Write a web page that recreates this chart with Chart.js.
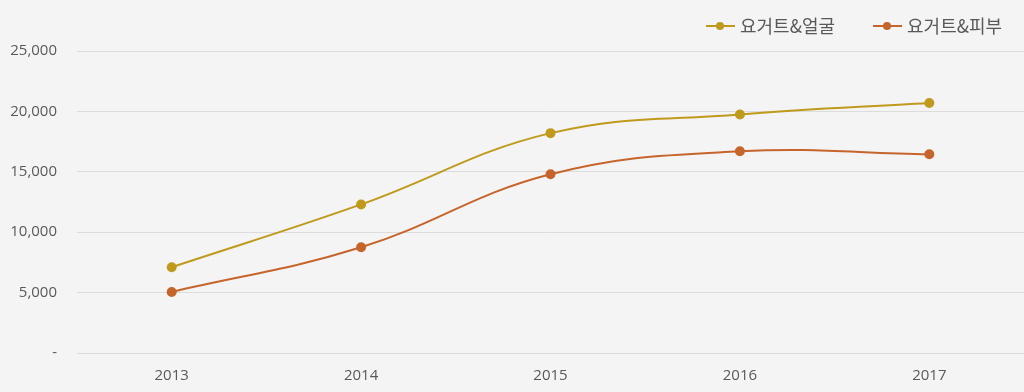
<!DOCTYPE html>
<html>
<head>
<meta charset="utf-8">
<script src="https://cdn.jsdelivr.net/npm/chart.js@4"></script>
<style>
  html, body { margin: 0; padding: 0; background: #f4f4f4; overflow: hidden; }
  #wrap { position: relative; width: 1024px; height: 392px; }
  #chart { display: block; }
  #legend { position: absolute; top: 12px; left: 706px; white-space: nowrap;
            font-family: "Noto Sans CJK KR", "Noto Sans", sans-serif; font-size: 18px; color: #595959; }
  #legend .item { display: inline-block; margin-right: 38px; }
  #legend .mark { display: inline-block; position: relative; width: 29px; height: 10px; margin-right: 5px; vertical-align: 2px; }
  #legend .mark i { position: absolute; left: 0; right: 0; top: 4px; height: 2px; }
  #legend .mark b { position: absolute; left: 10px; top: 1px; width: 8px; height: 8px; border-radius: 50%; }
</style>
</head>
<body>
<div id="wrap">
  <div id="legend"></div>
  <canvas id="chart" width="1024" height="392"></canvas>
</div>
<script>
var years = ['2013', '2014', '2015', '2016', '2017'];
var faceLabel = '요거트&얼굴';
var skinLabel = '요거트&피부';
var faceValues = [7100, 12300, 18200, 19750, 20700];
var skinValues = [5050, 8750, 14800, 16700, 16450];
var yTicks = [0, 5000, 10000, 15000, 20000, 25000];

var colors = {
    face: '#bf9a1c',
    skin: '#c6652b',
    text: '#595959',
    grid: '#dcdcdc'
};

function fmt(v){
    if(v === 0) return '-';
    return v.toLocaleString('en-US');
}

var datasets = [
    { label: faceLabel, data: faceValues, color: colors.face },
    { label: skinLabel, data: skinValues, color: colors.skin }
].map(function(s){
    return {
        label: s.label,
        data: s.data,
        borderColor: s.color,
        backgroundColor: s.color,
        borderWidth: 2,
        tension: 0.4,
        pointRadius: 4,
        pointHoverRadius: 4,
        fill: false
    };
});

// legend as html, line with a dot like the original
var legend = document.getElementById('legend');
datasets.forEach(function(ds){
    var item = document.createElement('span');
    item.className = 'item';
    item.innerHTML = '<span class="mark"><i style="background:' + ds.borderColor + '"></i>' +
        '<b style="background:' + ds.borderColor + '"></b></span>';
    item.appendChild(document.createTextNode(ds.label));
    legend.appendChild(item);
});

var ctx = document.getElementById('chart').getContext('2d');
new Chart(ctx, {
    type: 'line',
    data: { labels: years, datasets: datasets },
    options: {
        responsive: false,
        animation: false,
        layout: { autoPadding: false, padding: { top: 51, right: 0, left: 0, bottom: 0 } },
        plugins: {
            legend: { display: false },
            tooltip: { enabled: false }
        },
        scales: {
            x: {
                offset: true,
                afterFit: function(scale){
                    scale.height = 39;
                    scale.paddingLeft = 0;
                    scale.paddingRight = 0;
                },
                grid: { display: false, drawTicks: false },
                border: { display: false },
                ticks: {
                    color: colors.text,
                    padding: 14,
                    font: { family: '"Open Sans", sans-serif', size: 15 }
                }
            },
            y: {
                min: 0,
                max: 25000,
                afterFit: function(scale){ scale.width = 77; },
                afterBuildTicks: function(scale){
                    scale.ticks = yTicks.map(function(v){ return { value: v }; });
                },
                grid: { color: colors.grid, drawTicks: false },
                border: { display: false },
                ticks: {
                    color: colors.text,
                    padding: 20,
                    callback: fmt,
                    font: { family: '"Open Sans", sans-serif', size: 15 }
                }
            }
        }
    }
});
</script>
</body>
</html>
